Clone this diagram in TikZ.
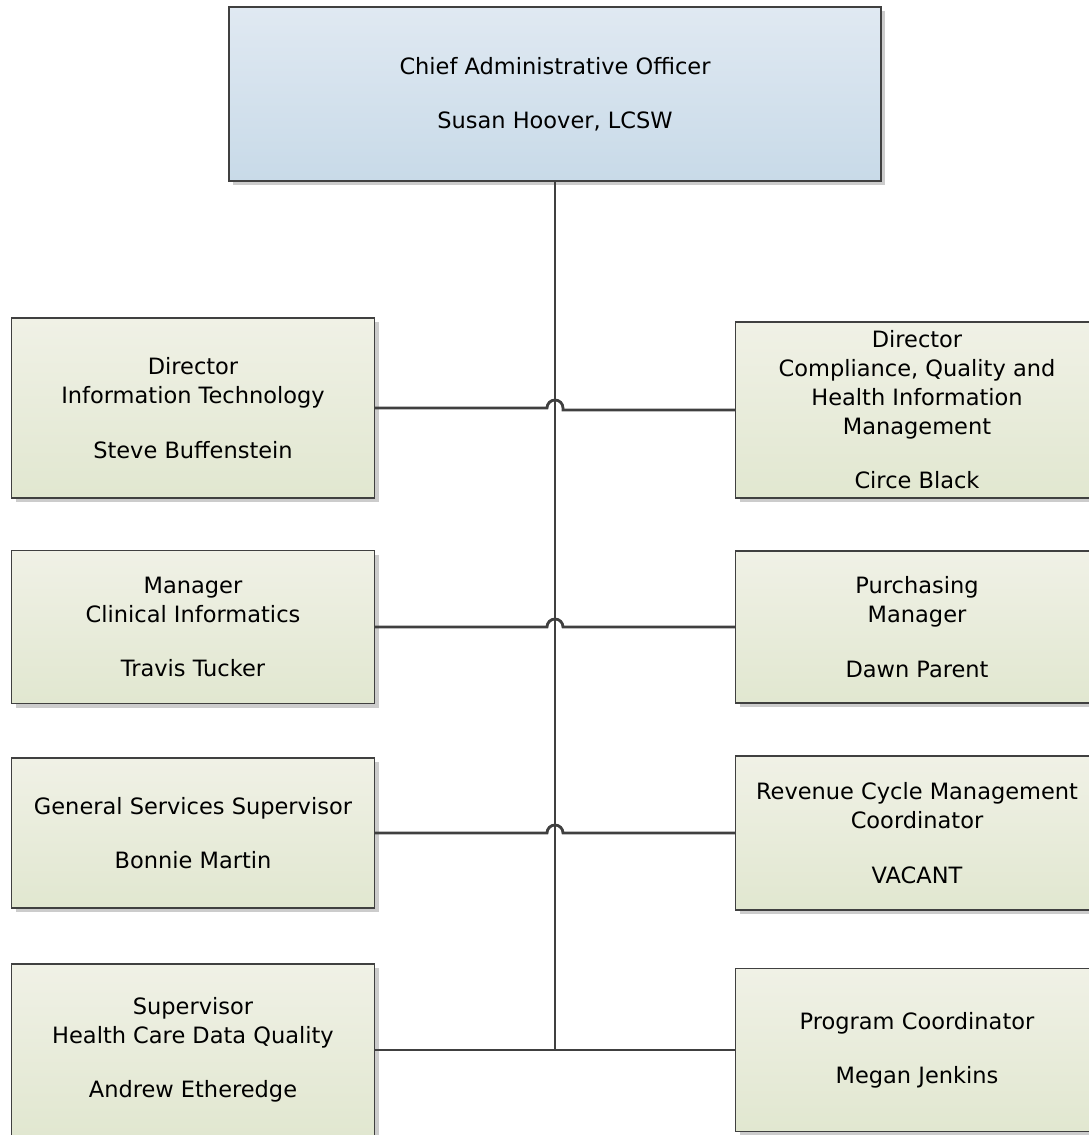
\documentclass[tikz,border=0pt]{standalone}
\usepackage{fontspec}
\setmainfont{DejaVu Sans}
\usetikzlibrary{positioning,shadows}
\definecolor{linegray}{HTML}{404040}
\definecolor{bluetop}{HTML}{E0E9F2}
\definecolor{bluebot}{HTML}{C8DAE8}
\definecolor{greentop}{HTML}{F0F1E6}
\definecolor{greenbot}{HTML}{E1E7D0}
\newcommand{\gapline}{\\[18pt]}
\tikzset{
  unit/.style={
    draw=linegray,
    line width=0.9pt,
    align=center,
    inner sep=0pt,
    top color=greentop,
    bottom color=greenbot,
    drop shadow={shadow xshift=3pt, shadow yshift=-3pt, fill=black!20, opacity=1},
    font=\fontsize{16}{20.6}\selectfont
  },
  head/.style={unit, top color=bluetop, bottom color=bluebot},
  boxsize/.style 2 args={minimum width=#1*0.025cm, minimum height=#2*0.025cm},
  link/.style={draw=linegray, line width=2pt}
}

\begin{document}
\begin{tikzpicture}[x=0.025cm, y=-0.025cm]
  \useasboundingbox (0,0) rectangle (1089,1135);

  % chief
  \node[head, boxsize={652}{174}] (cao) at (555,94)
    {Chief Administrative Officer\gapline Susan Hoover, LCSW};

  % left column
  \node[unit, boxsize={363}{180}] (it) at (193,408)
    {Director\\Information Technology\gapline Steve Buffenstein};
  \node[unit, boxsize={363}{153}] (clin) at (193,627)
    {Manager\\Clinical Informatics\gapline Travis Tucker};
  \node[unit, boxsize={363}{150}] (gen) at (193,833)
    {General Services Supervisor\gapline Bonnie Martin};
  \node[unit, boxsize={363}{172}] (hcdq) at (193,1050)
    {Supervisor\\Health Care Data Quality\gapline Andrew Etheredge};

  % right column
  \node[unit, boxsize={363}{176}] (comp) at (917,410)
    {Director\\Compliance, Quality and\\Health Information\\Management\gapline Circe Black};
  \node[unit, boxsize={363}{152}] (purch) at (917,627)
    {Purchasing\\Manager\gapline Dawn Parent};
  \node[unit, boxsize={363}{154}] (rev) at (917,833)
    {Revenue Cycle Management\\Coordinator\gapline VACANT};
  \node[unit, boxsize={363}{163}] (prog) at (917,1050)
    {Program Coordinator\gapline Megan Jenkins};

  \coordinate (foot) at (cao.south |- hcdq.east);

  % connectors
  \draw[link] (cao.south) -- (foot);
  \draw[link] (hcdq.east) -- (prog.west);
  \foreach \l/\r in {it/comp, clin/purch, gen/rev}
    \draw[link] (\l.east) -- ([xshift=-0.2cm]cao.south |- \l.east)
      arc[start angle=180, end angle=0, radius=0.2cm] |- (\r.west);
\end{tikzpicture}
\end{document}
